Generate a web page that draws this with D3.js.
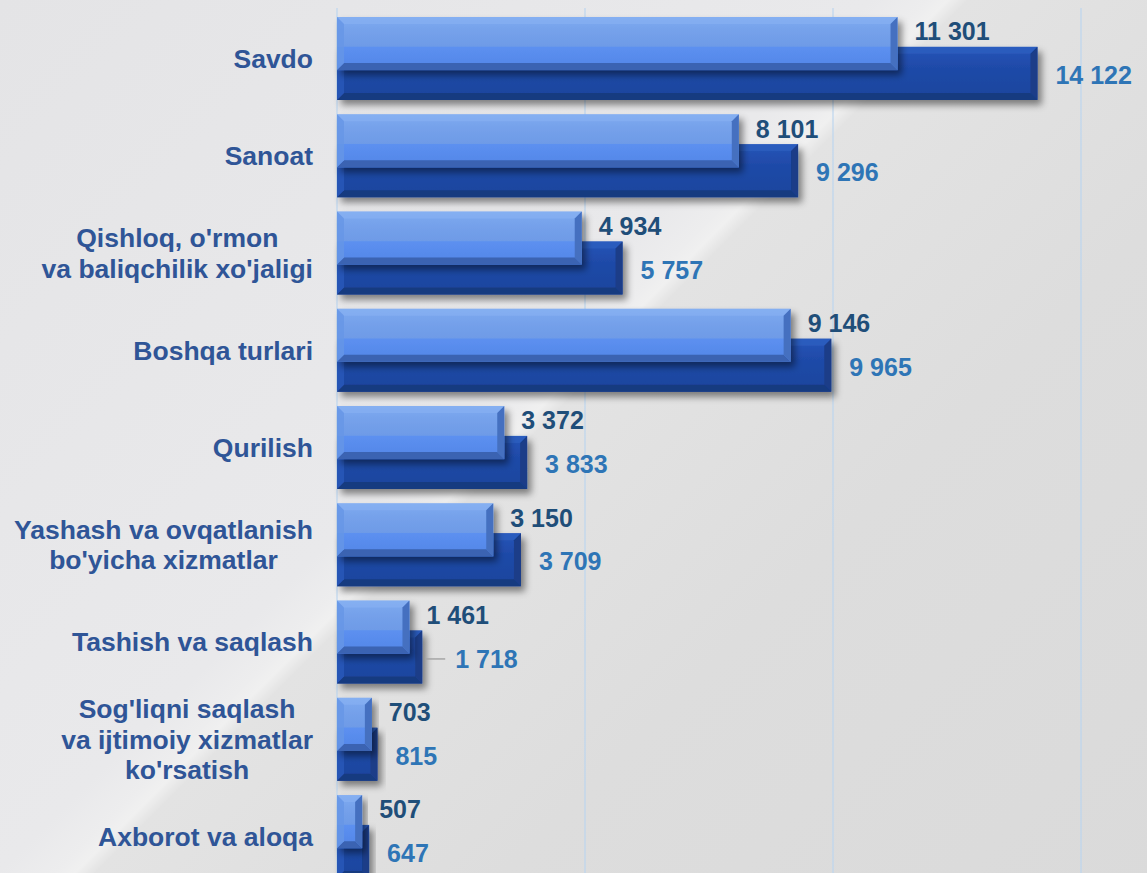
<!DOCTYPE html>
<html>
<head>
<meta charset="utf-8">
<script src="https://cdn.jsdelivr.net/npm/d3@7"></script>
<style>
  html, body { margin: 0; padding: 0; background: #e4e4e4; }
  svg { display: block; }
</style>
</head>
<body>
<svg id="chart" width="1147" height="873"></svg>
<script>
// ---- data ----
const categories = [
  "Savdo",
  "Sanoat",
  "Qishloq, o'rmon\nva baliqchilik xo'jaligi",
  "Boshqa turlari",
  "Qurilish",
  "Yashash va ovqatlanish\nbo'yicha xizmatlar",
  "Tashish va saqlash",
  "Sog'liqni saqlash\nva ijtimoiy xizmatlar\nko'rsatish",
  "Axborot va aloqa"
];
const series1 = [11301, 8101, 4934, 9146, 3372, 3150, 1461, 703, 507];
const series2 = [14122, 9296, 5757, 9965, 3833, 3709, 1718, 815, 647];
const gridTicks = [0, 5000, 10000, 15000];
const leaderLabels = ["Tashish va saqlash"]; // series2 label pulled out with a leader line

// ---- layout ----
const W = 1147, H = 873;
const svg = d3.select("#chart");
const defs = svg.append("defs");

// background with diagonal light streak
const bg = defs.append("linearGradient").attr("id", "bg")
  .attr("gradientUnits", "userSpaceOnUse")
  .attr("x1", 0).attr("y1", 0).attr("x2", W).attr("y2", W);
[[0, "#e4e4e6"], [0.38, "#e9e9eb"], [0.405, "#ededee"], [0.413, "#f0f0f0"], [0.422, "#e3e3e3"], [0.6, "#dddddd"], [1, "#d9d9d9"]]
  .forEach(([o, c]) => bg.append("stop").attr("offset", o).attr("stop-color", c));
svg.append("rect").attr("width", W).attr("height", H).attr("fill", "url(#bg)");

// shadow filter
const f = defs.append("filter").attr("id", "shadow")
  .attr("x", "-10%").attr("y", "-30%").attr("width", "130%").attr("height", "180%");
f.append("feDropShadow").attr("dx", 4).attr("dy", 5).attr("stdDeviation", 3.5)
  .attr("flood-color", "#000").attr("flood-opacity", 0.45);

function vgrad(id, stops) {
  const g = defs.append("linearGradient").attr("id", id)
    .attr("x1", 0).attr("y1", 0).attr("x2", 0).attr("y2", 1);
  stops.forEach(([o, c]) => g.append("stop").attr("offset", o).attr("stop-color", c));
}
vgrad("lightFace", [[0, "#7eaaf0"], [0.3, "#74a0ea"], [0.55, "#6e9be7"], [0.57, "#5c90f0"], [0.85, "#5689ea"], [1, "#4a7bd8"]]);
vgrad("darkFace", [[0, "#2555b8"], [0.4, "#1f4aa8"], [1, "#1c449d"]]);

const x = d3.scaleLinear().domain([0, 15000]).range([337, 1081]);
const y = d3.scaleBand().domain(categories).range([17, 878]).paddingInner(0.147).paddingOuter(0);
const bw = y.bandwidth();
const barH = bw * 0.64;
const offs2 = bw * 0.36;

// gridlines
svg.append("g").selectAll("line").data(gridTicks).join("line")
  .attr("x1", d => x(d)).attr("x2", d => x(d))
  .attr("y1", 8).attr("y2", H)
  .attr("stroke", "#bcd5ee").attr("stroke-width", 1.2);

const pal1 = { face: "url(#lightFace)", top: "#8db5f4", bottom: "#3b63b2", left: "#6796e6", right: "#4470c0" };
const pal2 = { face: "url(#darkFace)", top: "#3565c8", bottom: "#183a80", left: "#2a58ba", right: "#1a3d88" };

function bevelBar(g, x0, x1, y0, y1, p) {
  const b = Math.min(7, (x1 - x0) / 2);
  const grp = g.append("g").attr("filter", "url(#shadow)");
  grp.append("rect").attr("x", x0).attr("y", y0).attr("width", x1 - x0).attr("height", y1 - y0).attr("fill", p.face);
  const poly = (pts, c) => grp.append("polygon").attr("points", pts.map(d => d.join(",")).join(" ")).attr("fill", c);
  poly([[x0, y0], [x1, y0], [x1 - b, y0 + b], [x0 + b, y0 + b]], p.top).attr("opacity", 0.45);
  poly([[x0, y1], [x1, y1], [x1 - b, y1 - b], [x0 + b, y1 - b]], p.bottom);
  poly([[x0, y0], [x0 + b, y0 + b], [x0 + b, y1 - b], [x0, y1]], p.left).attr("opacity", 0.8);
  poly([[x1, y0], [x1 - b, y0 + b], [x1 - b, y1 - b], [x1, y1]], p.right);
}

const barsG = svg.append("g");
categories.forEach((c, i) => {
  const top = y(c);
  bevelBar(barsG, x(0), x(series2[i]), top + offs2, top + offs2 + barH, pal2);
  bevelBar(barsG, x(0), x(series1[i]), top, top + barH, pal1);
});

// value labels
const font = "'Liberation Sans', Arial, Helvetica, sans-serif";
const lab = svg.append("g").attr("font-family", font).attr("font-weight", "bold").attr("font-size", 25);
const fmt = v => d3.format(",")(v).replace(/,/g, " ");
categories.forEach((c, i) => {
  const top = y(c);
  lab.append("text")
    .attr("x", x(series1[i]) + 17)
    .attr("y", top + barH / 2 - 12)
    .attr("dy", "0.35em")
    .attr("fill", "#1f4e79")
    .text(fmt(series1[i]));
  const pulled = leaderLabels.includes(c);
  const lx = x(series2[i]) + (pulled ? 33 : 18);
  const ly = top + offs2 + barH / 2 + 2;
  if (pulled) {
    lab.append("line").attr("x1", x(series2[i]) + 3).attr("x2", lx - 10)
      .attr("y1", ly).attr("y2", ly).attr("stroke", "#a6a6a6").attr("stroke-width", 1.5);
  }
  lab.append("text")
    .attr("x", lx)
    .attr("y", ly)
    .attr("dy", "0.35em")
    .attr("fill", "#2e75b6")
    .text(fmt(series2[i]));
});

// category labels
const catG = svg.append("g").attr("font-family", font).attr("font-weight", "bold").attr("font-size", 26.5).attr("fill", "#2f5597");
const rightEdge = 313, lineH = 30.5;
categories.forEach(c => {
  const lines = c.split("\n");
  const t = catG.append("text").attr("text-anchor", "middle");
  const cy = y(c) + bw / 2;
  const y0 = cy - (lines.length - 1) * lineH / 2;
  const spans = lines.map((l, k) => t.append("tspan").attr("y", y0 + k * lineH).attr("dy", "0.35em").text(l));
  const maxW = d3.max(spans, s => s.node().getComputedTextLength());
  spans.forEach(s => s.attr("x", rightEdge - maxW / 2));
});
</script>
</body>
</html>
